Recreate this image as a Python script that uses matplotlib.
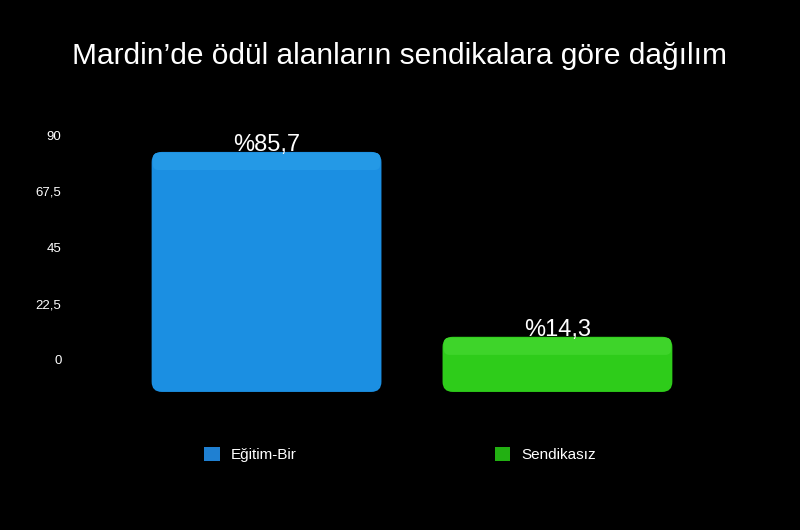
import matplotlib.pyplot as plt
from matplotlib.patches import FancyBboxPatch, Patch

# data
categories = ['Eğitim-Bir', 'Sendikasız']
values = [85.7, 14.3]
value_labels = ['%85,7', '%14,3']
tick_values = [0, 22.5, 45, 67.5, 90]
tick_labels = ['0', '22,5', '45', '67,5', '90']

TITLE = 'Mardin’de ödül alanların sendikalara göre dağılım'
BODY_COLORS = ['#1b8fe2', '#2ecc1a']
FACE_COLORS = ['#2499e6', '#3ed42a']
LEGEND_COLORS = ['#1f80d2', '#22b012']
DEPTH = 7.0  # top face height in bar-axis units

plt.rcParams['font.family'] = ['Liberation Sans', 'DejaVu Sans']

fig = plt.figure(figsize=(8, 5.3), dpi=100, facecolor='black')
box = [92 / 800, 100 / 530, 640 / 800, 370 / 530]

# axis that carries the tick labels
ax_ticks = fig.add_axes(box, facecolor='none')
ax_ticks.set_ylim(-28, 120)
ax_ticks.set_xlim(-0.6, 1.6)
ax_ticks.set_yticks(tick_values)
ax_ticks.set_yticklabels(tick_labels, color='white', fontsize=9.5)
ax_ticks.tick_params(axis='y', length=0, pad=22)
ax_ticks.set_xticks([])
for s in ax_ticks.spines.values():
    s.set_visible(False)

# axis that carries the bars (drawn with a slight perspective offset)
ax = fig.add_axes(box, facecolor='none')
ax.set_xlim(-0.6, 1.6)
ax.set_ylim(-14.7, 128.2)
ax.axis('off')

x = list(range(len(categories)))
bars = ax.bar(x, values, width=0.79, color=BODY_COLORS)

# aspect between x and y data units in pixels
px_x = 640 / 2.2
px_y = 370 / (128.2 + 14.7)
aspect = px_x / px_y

for i, rect in enumerate(bars):
    rect.set_visible(False)
    x0, w, h = rect.get_x(), rect.get_width(), rect.get_height()
    body = FancyBboxPatch((x0, 0), w, h + DEPTH, boxstyle='round,pad=0,rounding_size=0.035',
                          mutation_aspect=aspect, facecolor=BODY_COLORS[i],
                          edgecolor='none', zorder=2)
    ax.add_patch(body)
    face = FancyBboxPatch((x0 + 0.004, h), w - 0.008, DEPTH - 0.3,
                          boxstyle='round,pad=0,rounding_size=0.02',
                          mutation_aspect=aspect, facecolor=FACE_COLORS[i],
                          edgecolor='none', zorder=3)
    ax.add_patch(face)
    ax.text(x[i], h + DEPTH + 2.5, value_labels[i], ha='center', va='center',
            color='white', fontsize=17, zorder=4)

fig.text(0.5, 0.895, TITLE, ha='center', va='center', color='white', fontsize=21.5)

handles = [Patch(facecolor=c, edgecolor='none') for c in LEGEND_COLORS]
fig.legend(handles, categories, loc='center', bbox_to_anchor=(0.5, 0.142), ncol=2,
           frameon=False, fontsize=11, labelcolor='white', columnspacing=13,
           handlelength=1.0, handleheight=1.0, handletextpad=0.7)

fig.savefig('out.png', facecolor='black')
